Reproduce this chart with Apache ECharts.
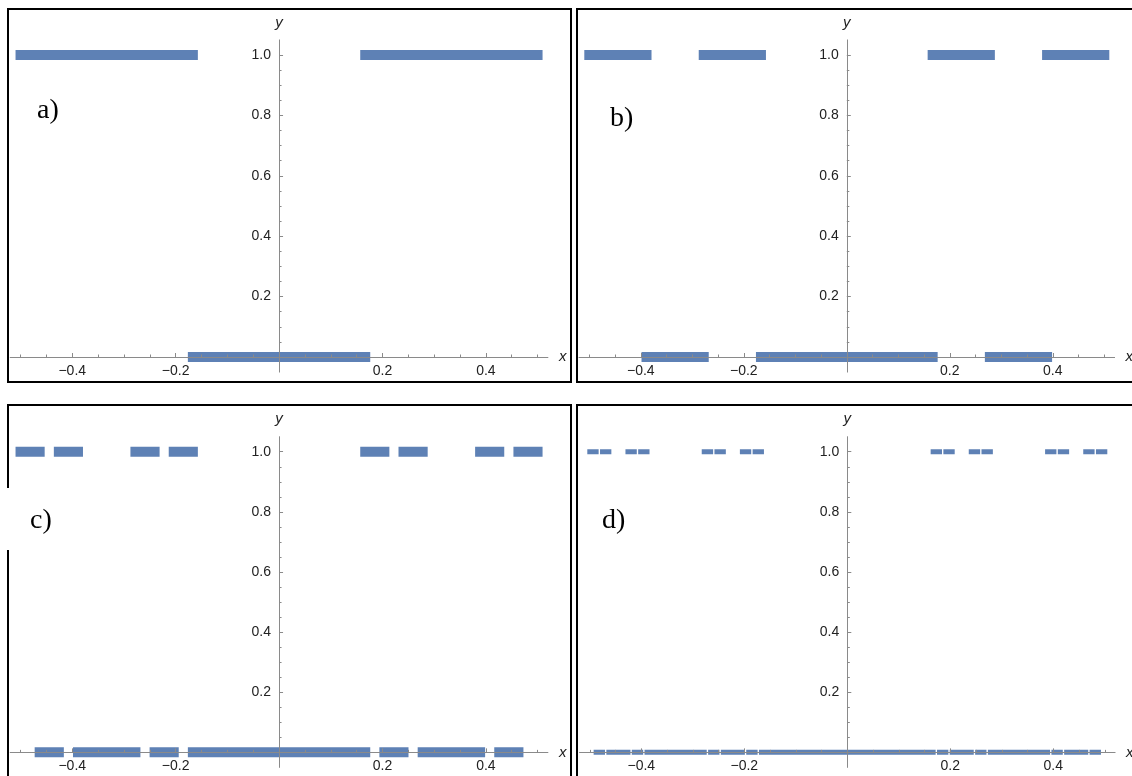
<!DOCTYPE html>
<html>
<head>
<meta charset="utf-8">
<script src="https://cdn.jsdelivr.net/npm/echarts@6/dist/echarts.min.js"></script>
<style>
html,body{margin:0;padding:0;background:#ffffff;}
#chart{width:1132px;height:776px;}
</style>
</head>
<body>
<div id="chart"></div>
<script>
// ---- data ----
const panelLabels = ['a)', 'b)', 'c)', 'd)'];

const aBreaks = [-0.5, -0.1667, 0.1667, 0.5];
const aValues = [1, 0, 1];

const bBreaks = [-0.5, -0.3889, -0.2778, -0.1667, 0.1667, 0.2778, 0.3889, 0.5];
const bValues = [1, 0, 1, 0, 1, 0, 1];

const cBreaks = [-0.5, -0.463, -0.4259, -0.3889, -0.2778, -0.2407, -0.2037, -0.1667,
                 0.1667, 0.2037, 0.2407, 0.2778, 0.3889, 0.4259, 0.463, 0.5];
const cValues = [1, 0, 1, 0, 1, 0, 1, 0, 1, 0, 1, 0, 1, 0, 1];

const dBreaks = [-0.5, -0.4877, -0.4753, -0.463, -0.4259, -0.4136, -0.4012, -0.3889,
                 -0.2778, -0.2654, -0.2531, -0.2407, -0.2037, -0.1914, -0.179, -0.1667,
                 0.1667, 0.179, 0.1914, 0.2037, 0.2407, 0.2531, 0.2654, 0.2778,
                 0.3889, 0.4012, 0.4136, 0.4259, 0.463, 0.4753, 0.4877, 0.5];
const dValues = [1, 0, 1, 0, 1, 0, 1, 0, 1, 0, 1, 0, 1, 0, 1, 0,
                 1, 0, 1, 0, 1, 0, 1, 0, 1, 0, 1, 0, 1, 0, 1];

const xMajorTicks = [-0.4, -0.2, 0.2, 0.4];
const xMinorTicks = [-0.5, -0.45, -0.35, -0.3, -0.25, -0.15, -0.1, -0.05,
                     0.05, 0.1, 0.15, 0.25, 0.3, 0.35, 0.45, 0.5];
const yMajorTicks = [0.2, 0.4, 0.6, 0.8, 1.0];
const yMinorTicks = [0.05, 0.1, 0.15, 0.25, 0.3, 0.35, 0.45, 0.5, 0.55,
                     0.65, 0.7, 0.75, 0.85, 0.9, 0.95];
const xRange = [-0.52, 0.52];
const yRange = [-0.05, 1.05];

// ---- layout / style ----
const BAR = '#5E81B5';
const AXIS = '#8a8a8a';
const TXT = '#222222';
const FONT = 'Liberation Sans, Arial, sans-serif';
const panels = [
  { breaks: aBreaks, values: aValues, lw: 10, grid: { left: 10.2, top: 39.9, width: 537.7, height: 332.2 } },
  { breaks: bBreaks, values: bValues, lw: 10, grid: { left: 579.0, top: 39.9, width: 535.6, height: 332.2 } },
  { breaks: cBreaks, values: cValues, lw: 10, grid: { left: 10.2, top: 436.7, width: 537.7, height: 330.7 } },
  { breaks: dBreaks, values: dValues, lw: 5, grid: { left: 579.5, top: 436.7, width: 535.6, height: 330.7 } }
];

function fmt(v) {
  const s = Math.abs(v).toFixed(1);
  return v < 0 ? '\u2212' + s : s;
}

const grids = [], xAxes = [], yAxes = [], series = [];
panels.forEach((p, i) => {
  grids.push(Object.assign({ outerBoundsMode: 'none', containLabel: false }, p.grid));
  // place axes through the origin with an offset from the grid edge
  const xOff = -p.grid.height * (0 - yRange[0]) / (yRange[1] - yRange[0]);
  const yOff = -p.grid.width * (0 - xRange[0]) / (xRange[1] - xRange[0]);
  // major x axis
  xAxes.push({
    type: 'value', gridIndex: i, min: xRange[0], max: xRange[1], position: 'bottom', offset: xOff, z: 5,
    name: 'x', nameLocation: 'end', nameGap: 11,
    nameTextStyle: { fontStyle: 'italic', fontSize: 15, color: TXT, fontFamily: FONT },
    axisLine: { show: true, onZero: false, lineStyle: { color: AXIS, width: 1 } },
    axisTick: { show: true, inside: true, length: 4, customValues: xMajorTicks, lineStyle: { color: AXIS } },
    axisLabel: { show: true, customValues: xMajorTicks, formatter: fmt, margin: 7,
      fontSize: 14, color: TXT, fontFamily: FONT },
    splitLine: { show: false }, minorTick: { show: false }
  });
  // minor x axis
  xAxes.push({
    type: 'value', gridIndex: i, min: xRange[0], max: xRange[1], position: 'bottom', offset: xOff, z: 5,
    axisLine: { show: false, onZero: false },
    axisTick: { show: true, inside: true, length: 2.5, customValues: xMinorTicks, lineStyle: { color: AXIS } },
    axisLabel: { show: false }, splitLine: { show: false }
  });
  // major y axis
  yAxes.push({
    type: 'value', gridIndex: i, min: yRange[0], max: yRange[1], position: 'left', offset: yOff, z: 5,
    name: 'y', nameLocation: 'end', nameGap: 10,
    nameTextStyle: { fontStyle: 'italic', fontSize: 15, color: TXT, fontFamily: FONT },
    axisLine: { show: true, onZero: false, lineStyle: { color: AXIS, width: 1 } },
    axisTick: { show: true, inside: true, length: 4, customValues: yMajorTicks, lineStyle: { color: AXIS } },
    axisLabel: { show: true, customValues: yMajorTicks, formatter: fmt, margin: 8,
      fontSize: 14, color: TXT, fontFamily: FONT },
    splitLine: { show: false }, minorTick: { show: false }
  });
  // minor y axis
  yAxes.push({
    type: 'value', gridIndex: i, min: yRange[0], max: yRange[1], position: 'left', offset: yOff, z: 5,
    axisLine: { show: false, onZero: false },
    axisTick: { show: true, inside: true, length: 2.5, customValues: yMinorTicks, lineStyle: { color: AXIS } },
    axisLabel: { show: false }, splitLine: { show: false }
  });
  for (let k = 0; k < p.values.length; k++) {
    series.push({
      type: 'line', xAxisIndex: 2 * i, yAxisIndex: 2 * i,
      data: [[p.breaks[k], p.values[k]], [p.breaks[k + 1], p.values[k]]],
      symbol: 'none', showSymbol: false, silent: true, z: 2,
      lineStyle: { color: BAR, width: p.lw, cap: 'square' },
      emphasis: { disabled: true }
    });
  }
});

const frame = { stroke: '#000', lineWidth: 2 };
const labelFont = { fontFamily: 'Liberation Serif, Times New Roman, serif', fontSize: 28, fill: '#000' };
const graphic = [
  { type: 'rect', shape: { x: 8, y: 9, width: 563, height: 373 }, style: Object.assign({ fill: null }, frame), silent: true },
  { type: 'rect', shape: { x: 577, y: 9, width: 600, height: 373 }, style: Object.assign({ fill: null }, frame), silent: true },
  { type: 'polyline', shape: { points: [[8, 488], [8, 405], [571, 405], [571, 800]] }, style: Object.assign({ fill: null }, frame), silent: true },
  { type: 'line', shape: { x1: 8, y1: 550, x2: 8, y2: 800 }, style: frame, silent: true },
  { type: 'rect', shape: { x: 577, y: 405, width: 600, height: 400 }, style: Object.assign({ fill: null }, frame), silent: true },
  { type: 'text', x: 37, y: 111, style: Object.assign({ text: panelLabels[0], verticalAlign: 'middle' }, labelFont), silent: true },
  { type: 'text', x: 610, y: 119, style: Object.assign({ text: panelLabels[1], verticalAlign: 'middle' }, labelFont), silent: true },
  { type: 'text', x: 30, y: 521, style: Object.assign({ text: panelLabels[2], verticalAlign: 'middle' }, labelFont), silent: true },
  { type: 'text', x: 602, y: 521, style: Object.assign({ text: panelLabels[3], verticalAlign: 'middle' }, labelFont), silent: true }
];

const chart = echarts.init(document.getElementById('chart'), null, { renderer: 'canvas' });
chart.setOption({
  animation: false,
  backgroundColor: '#ffffff',
  grid: grids,
  xAxis: xAxes,
  yAxis: yAxes,
  series: series,
  graphic: graphic
});
</script>
</body>
</html>
